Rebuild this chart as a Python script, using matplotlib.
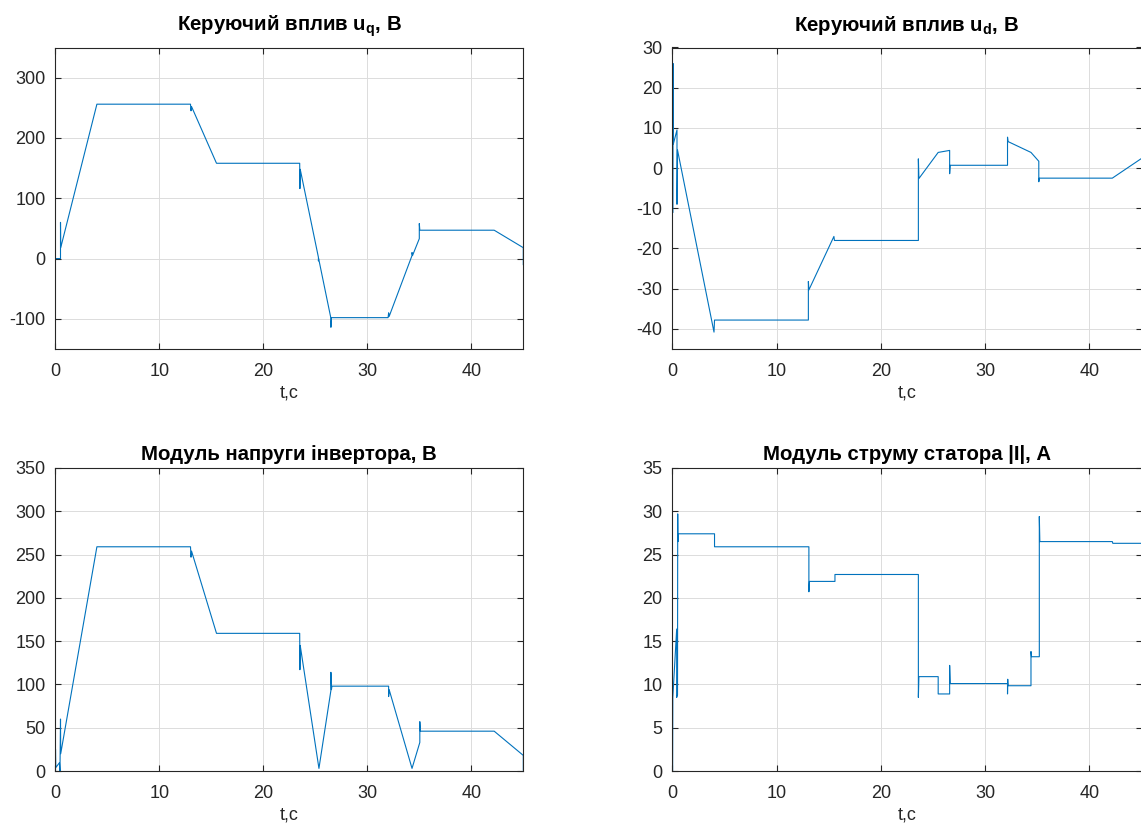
import numpy as np
import matplotlib
matplotlib.use('Agg')
from matplotlib import pyplot as plt

# values (t in seconds)
t_uq = [0, 0.5, 0.5, 0.52, 4.0, 13.0, 13.05, 13.1, 15.5, 23.5, 23.52, 23.55, 25.3, 25.3, 25.32,
        26.5, 26.5, 26.55, 32.0, 32.05, 32.1, 34.3, 34.3, 34.35, 35.0, 35.0, 35.05, 42.2, 45.0, 45.0]
uq = [0, 0, 60, 18, 256, 256, 245, 252, 158, 158, 116, 148, 2, -4, 0,
      -99, -114, -98, -98, -90, -96, 5, 10, 5, 33, 58, 47, 47, 18, -10]

t_ud = [0.06, 0.08, 0.1, 0.45, 0.45, 0.5, 4.0, 4.05, 13.05, 13.05, 13.1, 15.5, 15.55, 23.6, 23.6, 23.65,
        25.5, 26.6, 26.6, 26.65, 32.15, 32.15, 32.2, 34.4, 35.15, 35.15, 35.2, 42.2, 45.0]
ud = [-11, 26, 6, 9.5, -9, 4.5, -40.8, -37.8, -37.8, -28.2, -30.3, -17, -18, -18, 2.3, -2.6,
      3.9, 4.4, -1.4, 0.7, 0.7, 7.7, 6.6, 3.9, 1.7, -3.4, -2.5, -2.5, 2.4]

t_U = [0, 0.02, 0.05, 0.4, 0.45, 0.5, 0.52, 4.0, 13.0, 13.05, 13.1, 15.5, 23.5, 23.52, 23.55, 25.35,
       26.5, 26.5, 26.55, 26.6, 32.05, 32.05, 32.1, 34.3, 35.05, 35.05, 35.1, 42.2, 45.0, 45.0]
U = [0, 25, 4, 9.6, 0, 60, 20, 259, 259, 247, 254, 159, 159, 117, 145, 3,
     93, 114, 94, 98, 98, 86, 94, 3, 33, 57, 46, 46, 18, 1]

t_I = [0.03, 0.05, 0.42, 0.42, 0.5, 0.52, 0.54, 0.56, 4.05, 4.05, 13.1, 13.1, 13.15, 15.6, 15.6,
       23.6, 23.6, 23.65, 25.5, 25.5, 26.6, 26.6, 26.65, 32.15, 32.15, 32.17, 32.2, 34.4, 34.4, 34.45,
       35.2, 35.2, 35.25, 42.2, 42.25, 45.0]
I = [0, 8.5, 16.4, 8.5, 8.8, 29.7, 26.5, 27.4, 27.4, 25.9, 25.9, 20.7, 21.9, 21.9, 22.7,
     22.7, 8.5, 10.9, 10.9, 8.9, 8.9, 12.2, 10.1, 10.1, 8.9, 10.6, 9.85, 9.85, 13.8, 13.2,
     13.2, 29.4, 26.5, 26.5, 26.3, 26.3]

plt.rcParams['font.family'] = ['Liberation Sans', 'DejaVu Sans']
plt.rcParams['mathtext.fontset'] = 'custom'
plt.rcParams['mathtext.rm'] = 'Liberation Sans'
plt.rcParams['mathtext.bf'] = 'Liberation Sans:bold'
plt.rcParams['axes.unicode_minus'] = False

W, H = 1141, 827
fig = plt.figure(figsize=(W/100, H/100), dpi=100)

line_col = '#0072BD'
ax_col = '#262626'

def px_axes(x0, y0, x1, y1):
    # axes box from pixel corners (top-left origin)
    return fig.add_axes([x0/W, 1 - y1/H, (x1 - x0)/W, (y1 - y0)/H])

def style(ax, ylim, yticks, title, tpad):
    ax.set_xlim(0, 45)
    ax.set_ylim(*ylim)
    ax.set_xticks([0, 10, 20, 30, 40])
    ax.set_yticks(yticks)
    ax.grid(True, color='#dcdcdc', linewidth=0.7)
    ax.set_axisbelow(True)
    for s in ax.spines.values():
        s.set_color(ax_col)
        s.set_linewidth(0.8)
    ax.tick_params(direction='in', top=True, right=True, length=4, width=0.8,
                   colors=ax_col, labelsize=13)
    ax.tick_params(axis='x', pad=10)
    ax.tick_params(axis='y', pad=7)
    ax.set_xlabel('t,c', fontsize=13, color=ax_col, labelpad=3.5)
    ax.set_title(title, fontsize=14.7, fontweight='bold', pad=tpad)

ax1 = px_axes(55.3, 47.5, 523.3, 349)
ax1.plot(t_uq, uq, color=line_col, linewidth=0.8)
style(ax1, (-150, 350), [-100, 0, 100, 200, 300], r'Керуючий вплив u$_\mathbf{q}$, В', 12)

ax2 = px_axes(672.3, 47.5, 1141.5, 349)
ax2.plot(t_ud, ud, color=line_col, linewidth=0.8)
style(ax2, (-45, 30), [-40, -30, -20, -10, 0, 10, 20, 30], r'Керуючий вплив u$_\mathbf{d}$, В', 12)

ax3 = px_axes(55.3, 468, 523.3, 771)
ax3.plot(t_U, U, color=line_col, linewidth=0.8)
style(ax3, (0, 350), [0, 50, 100, 150, 200, 250, 300, 350], 'Модуль напруги інвертора, В', 6)

ax4 = px_axes(672.3, 468, 1141.5, 771)
ax4.plot(t_I, I, color=line_col, linewidth=0.8)
style(ax4, (0, 35), [0, 5, 10, 15, 20, 25, 30, 35], 'Модуль струму статора |I|, А', 6)

plt.savefig('out.png', dpi=100)
